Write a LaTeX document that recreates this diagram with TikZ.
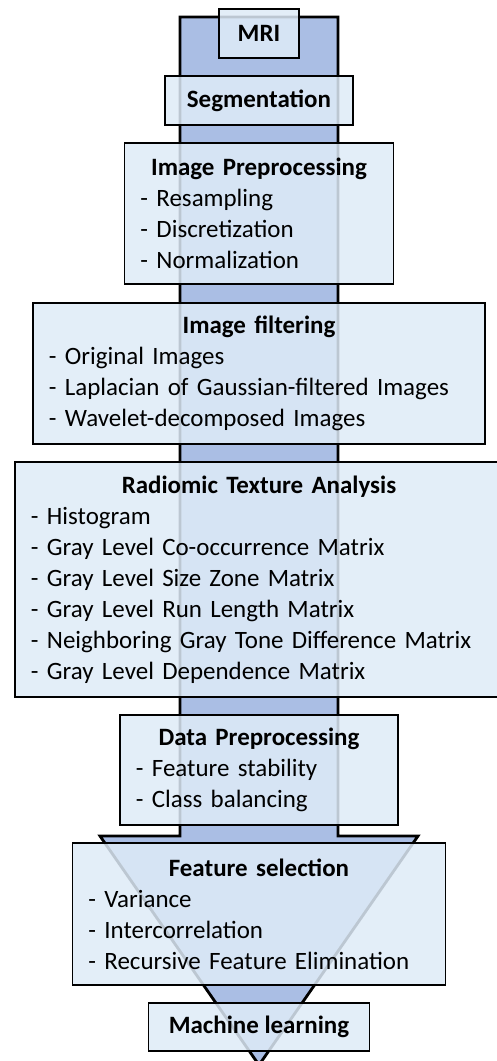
\documentclass[tikz,border=0pt]{standalone}
\usepackage{fontspec}
\setmainfont{Carlito}
\usepackage{xcolor}
\usepackage{tikz}
\definecolor{flow}{HTML}{AABEE4}
\definecolor{stage}{HTML}{DEEBF7}
\newcommand{\stagetitle}[1]{\hfill\textbf{#1}\hfill\null}
\hyphenpenalty=10000
\exhyphenpenalty=10000

\begin{document}
\begin{tikzpicture}[
  font=\fontsize{14.2}{17.6}\selectfont,
  flowarrow/.style={draw=black,line width=1.6pt,fill=flow,line join=miter},
  stagebox/.style={draw=black,line width=1.1pt,fill=stage,fill opacity=0.85,text opacity=1,inner xsep=0.32cm,inner ysep=0pt,align=left},
  single/.style={stagebox,align=center,font=\fontsize{14.2}{17.6}\selectfont\bfseries}]
\useasboundingbox (-5.18,0) rectangle (4.76,-21.22);
% big arrow behind the stages
\draw[flowarrow] (-1.58,-0.34) -- (1.58,-0.34) -- (1.58,-16.72) -- (3.18,-16.72)
  -- (0,-21.3) -- (-3.18,-16.72) -- (-1.58,-16.72) -- cycle;
\node[single,minimum width=1.6cm,minimum height=0.98cm] (mri) at (0,-0.67) {MRI};
\node[single,minimum width=3.76cm,minimum height=0.98cm] (seg) at (0,-2.01) {Segmentation};
\node[stagebox,text width=4.74cm,minimum height=2.82cm] (prep) at (0,-4.27)
  {\stagetitle{Image Preprocessing}\\- Resampling\\- Discretization\\- Normalization};
\node[stagebox,text width=8.40cm,minimum height=2.82cm] (filter) at (0,-7.47)
  {\stagetitle{Image filtering}\\- Original Images\\- Laplacian of Gaussian-filtered Images\\- Wavelet-decomposed Images};
\node[stagebox,text width=9.12cm,minimum height=4.7cm] (texture) at (0,-11.59)
  {\stagetitle{Radiomic Texture Analysis}\\- Histogram\\- Gray Level Co-occurrence Matrix\\- Gray Level Size Zone Matrix\\- Gray Level Run Length Matrix\\- Neighboring Gray Tone Difference Matrix\\- Gray Level Dependence Matrix};
\node[stagebox,text width=4.92cm,minimum height=2.2cm] (data) at (0,-15.4)
  {\stagetitle{Data Preprocessing}\\- Feature stability\\- Class balancing};
\node[stagebox,text width=6.82cm,minimum height=2.84cm] (select) at (0,-18.28)
  {\stagetitle{Feature selection}\\- Variance\\- Intercorrelation\\- Recursive Feature Elimination};
\node[single,minimum width=4.42cm,minimum height=0.96cm] (learn) at (0,-20.54) {Machine learning};
\end{tikzpicture}
\end{document}
